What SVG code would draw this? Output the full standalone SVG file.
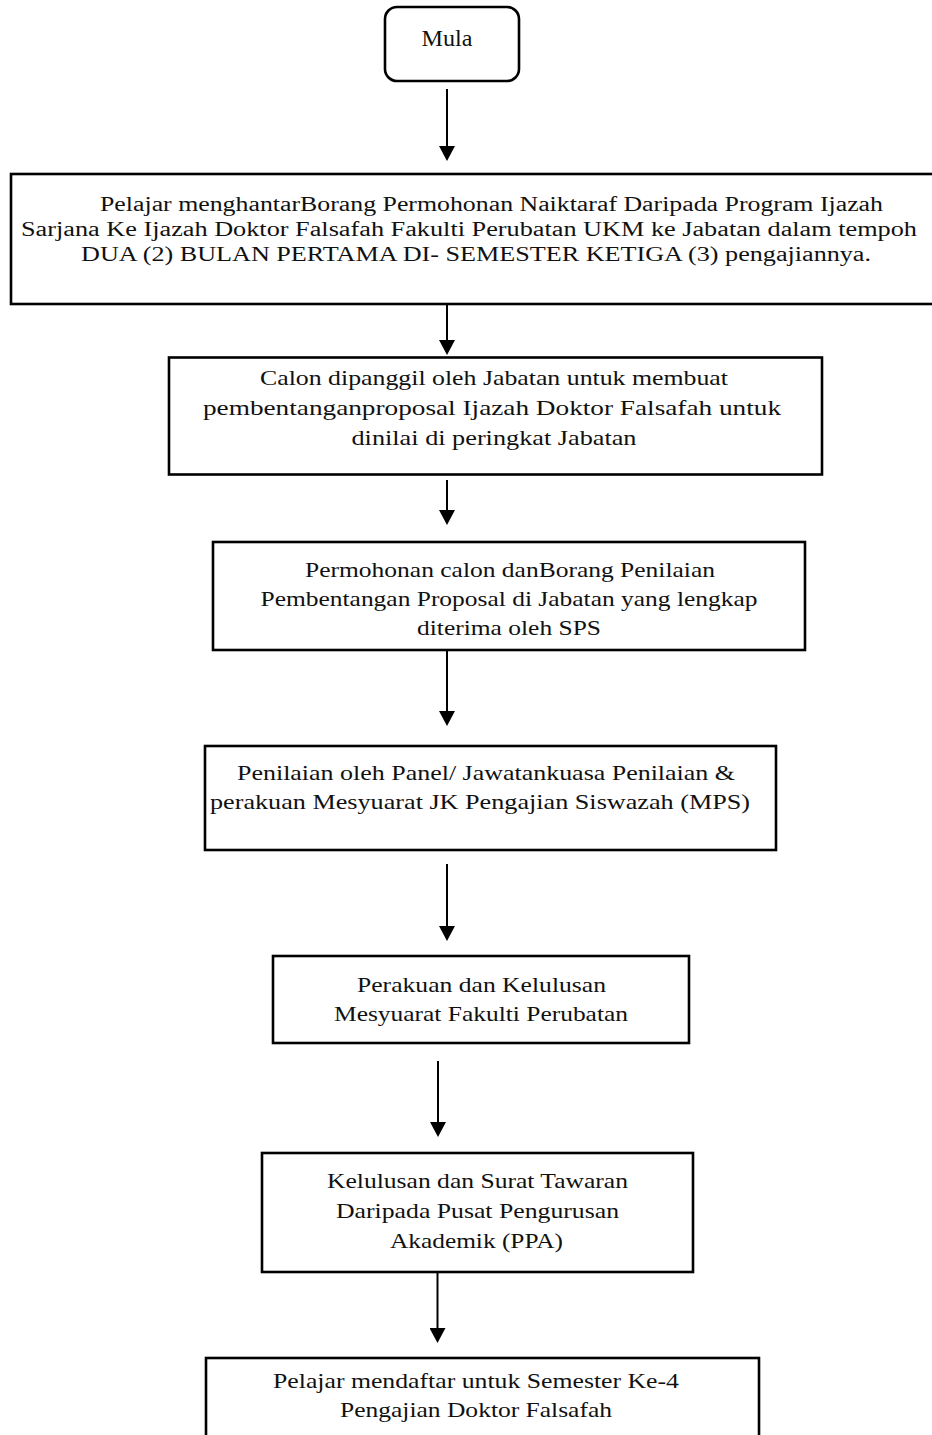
<svg xmlns="http://www.w3.org/2000/svg" width="932" height="1435" viewBox="0 0 932 1435">
  <style>
    .box { fill: #ffffff; stroke: #000000; stroke-width: 2.6; }
    .t { font-family: "Liberation Serif", "Times New Roman", serif; font-size: 21.5px; fill: #111111; text-anchor: middle; }
    .t2 { font-size: 20px; }
    .conn { stroke: #000000; stroke-width: 2; fill: none; marker-end: url(#arrow); }
  </style>
  <defs>
    <marker id="arrow" markerUnits="userSpaceOnUse" viewBox="0 0 15 16" refX="7" refY="8" markerWidth="15" markerHeight="16" orient="auto">
      <path d="M0,0 L15,8 L0,16 Z" fill="#000000"/>
    </marker>
  </defs>
  <rect width="932" height="1435" fill="#ffffff"/>

  <g id="connectors">
    <line class="conn" x1="447" y1="89" x2="447" y2="153"/>
    <line class="conn" x1="447" y1="283" x2="447" y2="347"/>
    <line class="conn" x1="447" y1="480" x2="447" y2="517"/>
    <line class="conn" x1="447" y1="650" x2="447" y2="718"/>
    <line class="conn" x1="447" y1="864" x2="447" y2="933"/>
    <line class="conn" x1="438" y1="1061" x2="438" y2="1129"/>
    <line class="conn" x1="437.5" y1="1266" x2="437.5" y2="1335"/>
  </g>

  <g id="node-mula">
    <rect class="box" x="385" y="7" width="134" height="74" rx="12" ry="12"/>
    <text class="t" x="447" y="46" style="font-size:23px" textLength="51" lengthAdjust="spacingAndGlyphs">Mula</text>
  </g>

  <g id="node-hantar">
    <rect class="box" x="11" y="174" width="940" height="130"/>
    <text class="t t2" x="491.5" y="211" textLength="783" lengthAdjust="spacingAndGlyphs">Pelajar menghantarBorang Permohonan Naiktaraf Daripada Program Ijazah</text>
    <text class="t t2" x="469" y="236" textLength="896" lengthAdjust="spacingAndGlyphs">Sarjana Ke Ijazah Doktor Falsafah Fakulti Perubatan UKM ke Jabatan dalam tempoh</text>
    <text class="t t2" x="476" y="261" textLength="790" lengthAdjust="spacingAndGlyphs">DUA (2) BULAN PERTAMA DI- SEMESTER KETIGA (3) pengajiannya.</text>
  </g>

  <g id="node-calon">
    <rect class="box" x="169" y="357.5" width="653" height="117"/>
    <text class="t" x="494" y="385" textLength="468" lengthAdjust="spacingAndGlyphs">Calon dipanggil oleh Jabatan untuk membuat</text>
    <text class="t" x="492" y="415" textLength="578" lengthAdjust="spacingAndGlyphs">pembentanganproposal Ijazah Doktor Falsafah untuk</text>
    <text class="t" x="494" y="445" textLength="285" lengthAdjust="spacingAndGlyphs">dinilai di peringkat Jabatan</text>
  </g>

  <g id="node-permohonan">
    <rect class="box" x="213" y="542" width="592" height="108"/>
    <text class="t" x="510" y="577" textLength="410" lengthAdjust="spacingAndGlyphs">Permohonan calon danBorang Penilaian</text>
    <text class="t" x="509" y="606" textLength="497" lengthAdjust="spacingAndGlyphs">Pembentangan Proposal di Jabatan yang lengkap</text>
    <text class="t" x="509" y="635" textLength="184" lengthAdjust="spacingAndGlyphs">diterima oleh SPS</text>
  </g>

  <g id="node-penilaian">
    <rect class="box" x="205" y="746" width="571" height="104"/>
    <text class="t" x="486" y="780" textLength="498" lengthAdjust="spacingAndGlyphs">Penilaian oleh Panel/ Jawatankuasa Penilaian &amp;</text>
    <text class="t" x="480" y="809" textLength="540" lengthAdjust="spacingAndGlyphs">perakuan Mesyuarat JK Pengajian Siswazah (MPS)</text>
  </g>

  <g id="node-perakuan">
    <rect class="box" x="273" y="956" width="416" height="87"/>
    <text class="t" x="481.5" y="992" textLength="249" lengthAdjust="spacingAndGlyphs">Perakuan dan Kelulusan</text>
    <text class="t" x="481" y="1021" textLength="294" lengthAdjust="spacingAndGlyphs">Mesyuarat Fakulti Perubatan</text>
  </g>

  <g id="node-kelulusan">
    <rect class="box" x="262" y="1153" width="431" height="119"/>
    <text class="t" x="477.5" y="1188" textLength="301" lengthAdjust="spacingAndGlyphs">Kelulusan dan Surat Tawaran</text>
    <text class="t" x="477.5" y="1218" textLength="283" lengthAdjust="spacingAndGlyphs">Daripada Pusat Pengurusan</text>
    <text class="t" x="476.5" y="1248" textLength="173" lengthAdjust="spacingAndGlyphs">Akademik (PPA)</text>
  </g>

  <g id="node-daftar">
    <rect class="box" x="206" y="1358" width="553" height="100"/>
    <text class="t" x="476" y="1388" textLength="406" lengthAdjust="spacingAndGlyphs">Pelajar mendaftar untuk Semester Ke-4</text>
    <text class="t" x="476" y="1417" textLength="272" lengthAdjust="spacingAndGlyphs">Pengajian Doktor Falsafah</text>
  </g>
</svg>
